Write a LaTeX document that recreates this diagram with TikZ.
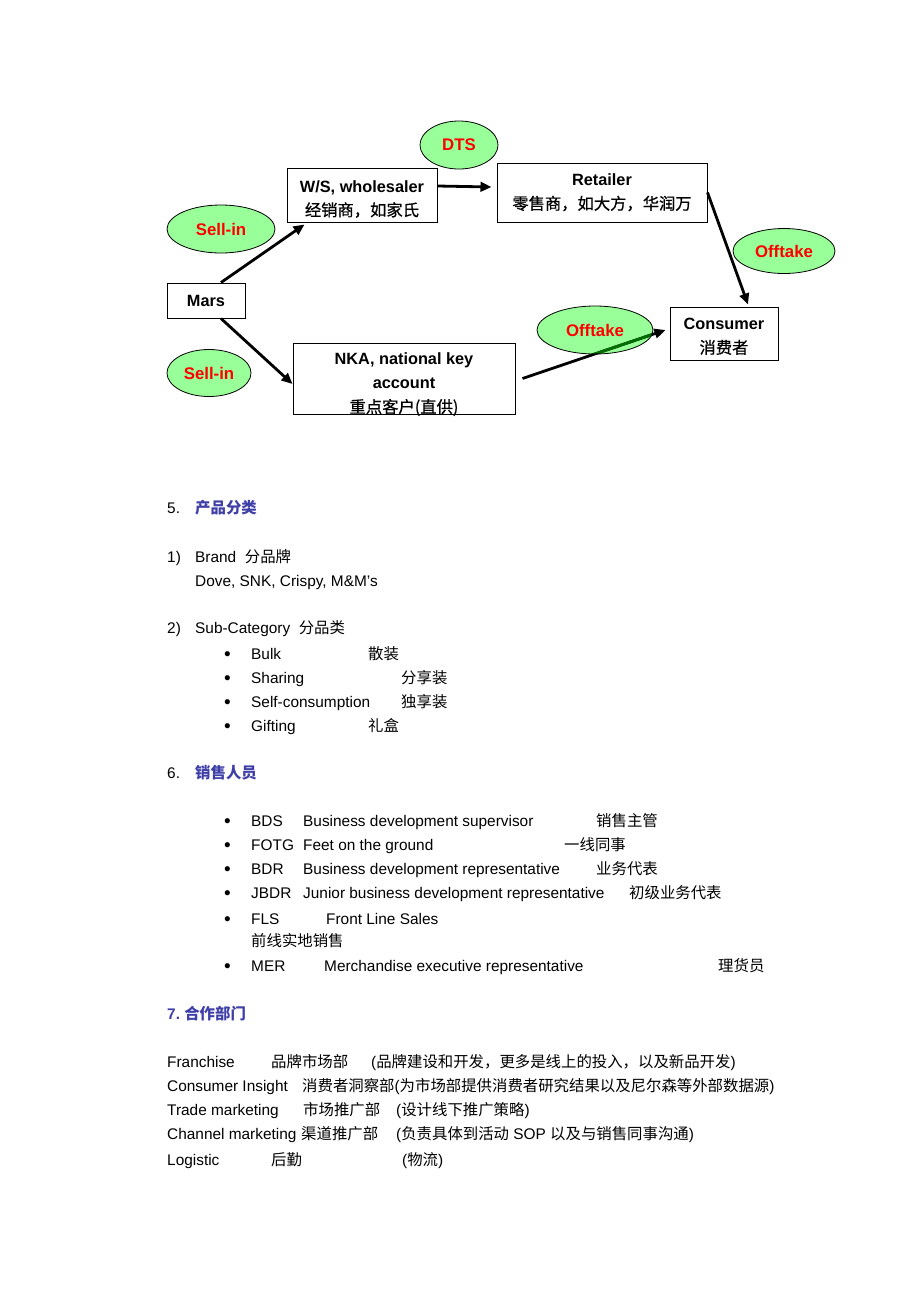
\documentclass[tikz,border=0pt]{standalone}
\usepackage{fontspec}
\setmainfont{Liberation Sans}
\newfontfamily\zhfont{Noto Sans CJK SC}
\newfontfamily\zhmidfont[FakeBold=0.7]{Noto Sans CJK SC}
\newcommand\zh[1]{{\zhfont #1}}
\newcommand\zhm[1]{{\zhmidfont\mdseries #1}}
\newcommand\blt{{\fontsize{19}{19}\selectfont\textbullet}}
\usetikzlibrary{shapes.geometric,arrows.meta}
\definecolor{bubgreen}{HTML}{99FF99}
\definecolor{hdblue}{HTML}{3F3FA8}
\definecolor{tdgreen}{HTML}{006F00}
\tikzset{
  box/.style={draw, line width=1pt, inner sep=0pt},
  boxtxt/.style={align=center, inner sep=0pt,
    font=\bfseries\fontsize{16.3}{24}\selectfont},
  bubble/.style={ellipse, draw, line width=0.8pt, fill=bubgreen, inner sep=0pt,
    text=red, font=\bfseries\fontsize{16.8}{20}\selectfont},
  arr/.style={-{Triangle[length=11pt,width=9.5pt]}, line width=2.8pt},
  txt/.style={anchor=base west, inner sep=0pt, font=\fontsize{15.4}{18}\selectfont},
  hd/.style={txt, text=hdblue},
  dot/.style={anchor=base west, inner sep=0pt},
}
\begin{document}
\begin{tikzpicture}[x=1pt,y=-1pt]
    \useasboundingbox[fill=white] (0,0) rectangle (920,1302);

    % flow chart
    \node[box, minimum width=78pt, minimum height=35pt] (mars) at (206,300.5) {};
    \node[box, minimum width=150pt, minimum height=54pt] (ws) at (362,195) {};
    \node[box, minimum width=210pt, minimum height=59pt] (ret) at (602,192.5) {};
    \node[box, minimum width=108pt, minimum height=53pt] (cons) at (724,333.5) {};
    \node[box, minimum width=222pt, minimum height=71pt] (nka) at (404,378.5) {};

    \node[boxtxt] (marsT) at (mars) {Mars};
    \node[boxtxt] (wsT) at ([yshift=-4pt]ws) {W/S, wholesaler\\\zhm{经销商，如家氏}};
    \node[boxtxt] (retT) at (ret) {Retailer\\\zhm{零售商，如大方，华润万}};
    \node[boxtxt] (consT) at ([yshift=-3pt]cons) {Consumer\\\zhm{消费者}};
    \node[boxtxt] (nkaT) at ([yshift=-6pt]nka) {NKA, national key\\account\\\zhm{重点客户(直供)}};

    \node[bubble, minimum width=78pt, minimum height=48pt] (dts) at (459,145) {DTS};
    \node[bubble, minimum width=108pt, minimum height=48pt] (sellA) at (221,229) {Sell-in};
    \node[bubble, minimum width=84pt, minimum height=47pt] (sellB) at (209,373) {Sell-in};
    \node[bubble, minimum width=102pt, minimum height=45pt] (offA) at (784,251) {Offtake};
    \node[bubble, minimum width=116pt, minimum height=48pt] (offB) at (595,330) {Offtake};

    \coordinate (tkA) at ([xshift=7pt]nka.east);
    \coordinate (tkB) at ([xshift=-4pt,yshift=3.5pt]cons.west);

    \draw[arr] ([xshift=15pt]mars.north) -- ([xshift=18pt,yshift=-2pt]ws.south west);
    \draw[arr] ([xshift=15pt]mars.south) -- ([yshift=-5.5pt]nka.west);
    \draw[arr] ([yshift=9pt]ws.east) -- ([xshift=-5pt,yshift=5.5pt]ret.west);
    \draw[arr] (ret.east) -- ([xshift=24pt,yshift=2pt]cons.north);
    \draw[arr] (tkA) -- (tkB);
    \begin{scope}
        \clip (offB.center) ellipse (57.5pt and 23.5pt);
        \draw[line width=2.8pt, tdgreen, shorten >=10pt] (tkA) -- (tkB);
    \end{scope}

    % 5. product categories
    \node[txt] (h5) at (167,513.5) {5.};
    \node[hd] (h5t) at (195,513.5) {\zh{\bfseries 产品分类}};
    \node[txt] (c1) at (167,562.5) {1)};
    \node[txt] (c1t) at (195,562.5) {Brand\ \ \zh{分品牌}};
    \node[txt] (c1b) at (195,586.5) {Dove, SNK, Crispy, M\&M’s};
    \node[txt] (c2) at (167,633.5) {2)};
    \node[txt] (c2t) at (195,633.5) {Sub-Category\ \ \zh{分品类}};

    \node[dot] (d1) at (224,660.5) {\blt};
    \node[txt] (d1t) at (251,659.5) {Bulk};
    \node[txt] (d1z) at (368,659.5) {\zh{散装}};
    \node[dot] (d2) at (224,684.5) {\blt};
    \node[txt] (d2t) at (251,683.5) {Sharing};
    \node[txt] (d2z) at (401,683.5) {\zh{分享装}};
    \node[dot] (d3) at (224,708.5) {\blt};
    \node[txt] (d3t) at (251,707.5) {Self-consumption};
    \node[txt] (d3z) at (401,707.5) {\zh{独享装}};
    \node[dot] (d4) at (224,732.5) {\blt};
    \node[txt] (d4t) at (251,731.5) {Gifting};
    \node[txt] (d4z) at (368,731.5) {\zh{礼盒}};

    % 6. sales staff
    \node[txt] (h6) at (167,778.5) {6.};
    \node[hd] (h6t) at (195,778.5) {\zh{\bfseries 销售人员}};

    \node[dot] (e1) at (224,827.5) {\blt};
    \node[txt] (e1a) at (251,826.5) {BDS};
    \node[txt] (e1t) at (303,826.5) {Business development supervisor};
    \node[txt] (e1z) at (596,826.5) {\zh{销售主管}};
    \node[dot] (e2) at (224,851.5) {\blt};
    \node[txt] (e2a) at (251,850.5) {FOTG};
    \node[txt] (e2t) at (303,850.5) {Feet on the ground};
    \node[txt] (e2z) at (564,850.5) {\zh{一线同事}};
    \node[dot] (e3) at (224,875.5) {\blt};
    \node[txt] (e3a) at (251,874.5) {BDR};
    \node[txt] (e3t) at (303,874.5) {Business development representative};
    \node[txt] (e3z) at (596,874.5) {\zh{业务代表}};
    \node[dot] (e4) at (224,899.5) {\blt};
    \node[txt] (e4a) at (251,898.5) {JBDR};
    \node[txt] (e4t) at (303,898.5) {Junior business development representative};
    \node[txt] (e4z) at (629,898.5) {\zh{初级业务代表}};
    \node[dot] (e5) at (224,925.5) {\blt};
    \node[txt] (e5a) at (251,924.5) {FLS};
    \node[txt] (e5t) at (326,924.5) {Front Line Sales};
    \node[txt] (e5z) at (251,946.5) {\zh{前线实地销售}};
    \node[dot] (e6) at (224,972.5) {\blt};
    \node[txt] (e6a) at (251,971.5) {MER};
    \node[txt] (e6t) at (324,971.5) {Merchandise executive representative};
    \node[txt] (e6z) at (718,971.5) {\zh{理货员}};

    % 7. partner departments
    \node[hd] (h7) at (167,1019.5) {\textbf{7.}\ \zh{\bfseries 合作部门}};

    \node[txt] (f1) at (167,1067.5) {Franchise};
    \node[txt] (f1z) at (271,1067.5) {\zh{品牌市场部}};
    \node[txt] (f1n) at (371,1067.5) {(\zh{品牌建设和开发，更多是线上的投入，以及新品开发})};
    \node[txt] (f2) at (167,1091.5) {Consumer Insight};
    \node[txt] (f2z) at (302,1091.5) {\zh{消费者洞察部}(\zh{为市场部提供消费者研究结果以及尼尔森等外部数据源})};
    \node[txt] (f3) at (167,1115.5) {Trade marketing};
    \node[txt] (f3z) at (303,1115.5) {\zh{市场推广部}};
    \node[txt] (f3n) at (396,1115.5) {(\zh{设计线下推广策略})};
    \node[txt] (f4) at (167,1139.5) {Channel marketing};
    \node[txt] (f4z) at (301,1139.5) {\zh{渠道推广部}};
    \node[txt] (f4n) at (396,1139.5) {(\zh{负责具体到活动} SOP \zh{以及与销售同事沟通})};
    \node[txt] (f5) at (167,1165.5) {Logistic};
    \node[txt] (f5z) at (271,1165.5) {\zh{后勤}};
    \node[txt] (f5n) at (402,1165.5) {(\zh{物流})};
\end{tikzpicture}
\end{document}
